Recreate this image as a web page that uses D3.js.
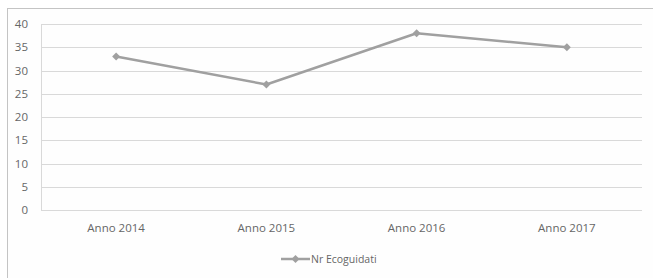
<!DOCTYPE html>
<html><head><meta charset="utf-8">
<script src="https://cdn.jsdelivr.net/npm/d3@7"></script>
<style>html,body{margin:0;padding:0;background:#fff;}svg{display:block;}</style>
</head><body>
<svg id="c" width="653" height="278"></svg>
<script>
const categories = ["Anno 2014", "Anno 2015", "Anno 2016", "Anno 2017"];
const values = [33, 27, 38, 35];
const yTicks = [0, 5, 10, 15, 20, 25, 30, 35, 40];
const seriesName = "Nr Ecoguidati";

(function () {
const svg = d3.select("#c");
const font = "'Open Sans', 'Noto Sans', sans-serif";
const textColor = "#666666";

// outer frame
svg.append("rect").attr("x", 7.5).attr("y", 8.5).attr("width", 660).attr("height", 290)
  .attr("fill", "#fefefe").attr("stroke", "#c4c4c4").attr("stroke-width", 1);

const pl = 41, pr = 642, pt = 24, pb = 210;
const x = d3.scaleBand().domain(categories).range([pl, pr]);
const y = d3.scaleLinear().domain([0, 40]).range([pb, pt]);

// gridlines
svg.append("g").selectAll("line").data(yTicks).join("line")
  .attr("x1", pl).attr("x2", pr)
  .attr("y1", d => Math.round(y(d)) + 0.5).attr("y2", d => Math.round(y(d)) + 0.5)
  .attr("stroke", "#d9d9d9").attr("stroke-width", 1);

// left axis line
svg.append("line").attr("x1", pl + 0.5).attr("x2", pl + 0.5).attr("y1", pt).attr("y2", pb + 0.5)
  .attr("stroke", "#d9d9d9");

// y tick labels
const yAxis = d3.axisLeft(y).tickValues(yTicks).tickSize(0).tickPadding(13);
const ya = svg.append("g").attr("transform", `translate(${pl},0)`).call(yAxis);
ya.select(".domain").remove();
ya.selectAll("text").attr("fill", textColor).style("font-family", font).style("font-size", "11.5px");

// x labels
const xAxis = d3.axisBottom(x).tickSize(0).tickPadding(14);
const xa = svg.append("g").attr("transform", `translate(0,${pb})`).call(xAxis);
xa.select(".domain").remove();
xa.selectAll("text").attr("fill", textColor).style("font-family", font).style("font-size", "11.5px");

// line
const lineColor = "#a0a0a0";
const line = d3.line().x((d, i) => x(categories[i]) + x.bandwidth() / 2).y(d => y(d));
svg.append("path").datum(values).attr("d", line).attr("fill", "none")
  .attr("stroke", lineColor).attr("stroke-width", 2.5).attr("stroke-linejoin", "round");

const diamond = d3.symbol().type(d3.symbolDiamond2).size(40);
svg.append("g").selectAll("path").data(values).join("path")
  .attr("transform", (d, i) => `translate(${x(categories[i]) + x.bandwidth() / 2},${y(d)})`)
  .attr("d", diamond).attr("fill", lineColor);

// legend
const lg = svg.append("g").attr("transform", "translate(281,259)");
lg.append("line").attr("x1", 0).attr("x2", 29).attr("y1", 0).attr("y2", 0)
  .attr("stroke", lineColor).attr("stroke-width", 2.5);
lg.append("path").attr("transform", "translate(14.5,0)").attr("d", diamond).attr("fill", lineColor);
lg.append("text").attr("x", 30).attr("y", 0).attr("dy", "0.35em").text(seriesName)
  .attr("fill", textColor).style("font-family", font).style("font-size", "10.5px");
})();
</script>
</body></html>
